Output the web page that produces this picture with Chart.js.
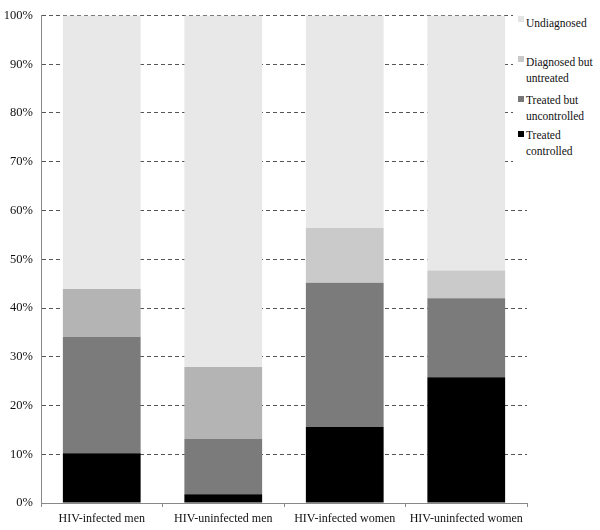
<!DOCTYPE html>
<html>
<head>
<meta charset="utf-8">
<script src="https://cdn.jsdelivr.net/npm/chart.js@4/dist/chart.umd.min.js"></script>
<style>
  html, body { margin: 0; padding: 0; background: #fff; }
  #wrap { position: relative; width: 600px; height: 530px; }
  #legend { position: absolute; left: 513px; top: 0; width: 87px; height: 185px; background: #fff;
            font-family: "Liberation Serif", "Times New Roman", serif; font-size: 11.5px; color: #111; }
  .item { position: absolute; left: 13px; line-height: 16px; white-space: nowrap; }
  .sq { position: absolute; left: 5px; width: 6px; height: 6px; }
</style>
</head>
<body>
<div id="wrap">
  <canvas id="c" width="600" height="530"></canvas>
  <div id="legend"></div>
</div>
<script>
const categories = ["HIV-infected men", "HIV-uninfected men", "HIV-infected women", "HIV-uninfected women"];
const seriesNames = ["Treated controlled", "Treated but uncontrolled", "Diagnosed but untreated", "Undiagnosed"];
const treatedControlled = [10.2, 1.8, 15.6, 25.8];
const treatedUncontrolled = [23.9, 11.4, 29.6, 16.2];
const diagnosedUntreated = [9.8, 14.7, 11.2, 5.7];
const undiagnosed = [56.1, 72.1, 43.6, 52.3];
const yTicks = [0, 10, 20, 30, 40, 50, 60, 70, 80, 90, 100];

const SERIF = '"Liberation Serif", "Times New Roman", serif';

const chart = new Chart(document.getElementById('c'), {
  type: 'bar',
  data: {
    labels: categories,
    datasets: [
      { label: seriesNames[0], data: treatedControlled, backgroundColor: '#000000' },
      { label: seriesNames[1], data: treatedUncontrolled, backgroundColor: '#7b7b7b' },
      { label: seriesNames[2], data: diagnosedUntreated, backgroundColor: ['#b4b4b4', '#b4b4b4', '#cacaca', '#cacaca'] },
      { label: seriesNames[3], data: undiagnosed, backgroundColor: '#e8e8e8' }
    ]
  },
  options: {
    responsive: false,
    animation: false,
    devicePixelRatio: 1,
    layout: { padding: { top: 10, right: 73, left: 0, bottom: 0 } },
    datasets: { bar: { categoryPercentage: 1, barPercentage: 0.64, borderWidth: 0 } },
    plugins: { legend: { display: false }, tooltip: { enabled: false } },
    scales: {
      x: {
        stacked: true,
        grid: { display: true, drawOnChartArea: false, drawTicks: true, tickLength: 4, color: '#888', offset: true },
        border: { color: '#888', width: 1 },
        ticks: { font: { family: SERIF, size: 12 }, color: '#111', padding: 5, maxRotation: 0, autoSkip: false },
        afterFit: s => { s.height = 27; }
      },
      y: {
        stacked: true,
        min: 0, max: 100,
        afterBuildTicks: s => { s.ticks = yTicks.map(v => ({ value: v })); },
        grid: { color: '#555', lineWidth: 1, drawTicks: false },
        border: { color: '#888', width: 1, dash: [4, 3] },
        ticks: { font: { family: SERIF, size: 12.5 }, color: '#111', padding: 8, callback: v => v + '%' },
        afterFit: s => { s.width = 41; }
      }
    }
  }
});

// Legend (right side, overlaying plot edge)
const legendItems = [
  { lines: ["Undiagnosed"], color: '#e4e4e4', top: 15, sq: 16 },
  { lines: ["Diagnosed but", "untreated"], color: '#c8c8c8', top: 54, sq: 56 },
  { lines: ["Treated but", "uncontrolled"], color: '#777777', top: 92, sq: 96 },
  { lines: ["Treated", "controlled"], color: '#000000', top: 127, sq: 131 }
];
const leg = document.getElementById('legend');
legendItems.forEach(it => {
  const sq = document.createElement('div');
  sq.className = 'sq';
  sq.style.top = it.sq + 'px';
  sq.style.background = it.color;
  leg.appendChild(sq);
  const d = document.createElement('div');
  d.className = 'item';
  d.style.top = it.top + 'px';
  d.innerHTML = it.lines.join('<br>');
  leg.appendChild(d);
});
</script>
</body>
</html>
